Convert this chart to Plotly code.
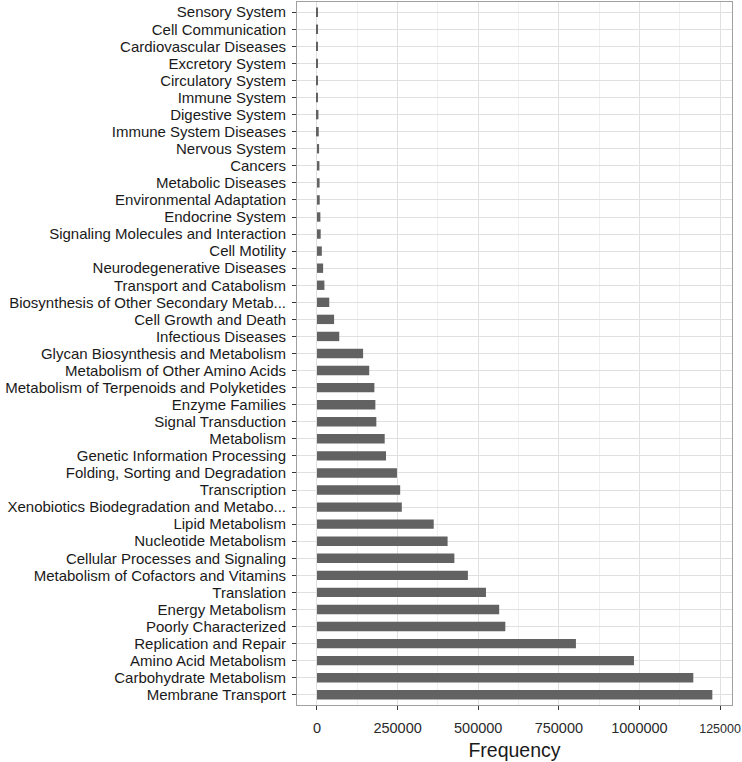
import plotly.graph_objects as go

categories = [
    "Sensory System", "Cell Communication", "Cardiovascular Diseases", "Excretory System",
    "Circulatory System", "Immune System", "Digestive System", "Immune System Diseases",
    "Nervous System", "Cancers", "Metabolic Diseases", "Environmental Adaptation",
    "Endocrine System", "Signaling Molecules and Interaction", "Cell Motility",
    "Neurodegenerative Diseases", "Transport and Catabolism",
    "Biosynthesis of Other Secondary Metab...", "Cell Growth and Death", "Infectious Diseases",
    "Glycan Biosynthesis and Metabolism", "Metabolism of Other Amino Acids",
    "Metabolism of Terpenoids and Polyketides", "Enzyme Families", "Signal Transduction",
    "Metabolism", "Genetic Information Processing", "Folding, Sorting and Degradation",
    "Transcription", "Xenobiotics Biodegradation and Metabo...", "Lipid Metabolism",
    "Nucleotide Metabolism", "Cellular Processes and Signaling",
    "Metabolism of Cofactors and Vitamins", "Translation", "Energy Metabolism",
    "Poorly Characterized", "Replication and Repair", "Amino Acid Metabolism",
    "Carbohydrate Metabolism", "Membrane Transport",
]
frequency = [
    100, 200, 300, 1800,
    2200, 2800, 4500, 5500,
    6500, 7500, 8000, 8500,
    10500, 11500, 15000,
    19000, 23000,
    38000, 53000, 69000,
    143000, 162000,
    178000, 181000, 184000,
    210000, 214000, 248000,
    258000, 263000, 362000,
    405000, 426000,
    468000, 524000, 565000,
    584000, 803000, 983000,
    1167000, 1226000,
]
tick_values = [0, 250000, 500000, 750000, 1000000, 1250000]
tick_labels = ["0", "250000", "500000", "750000", "1000000",
               "<span style='font-size:12.5px'>125000</span>"]
minor_values = [125000, 375000, 625000, 875000, 1125000]

fig = go.Figure(go.Bar(
    x=frequency, y=categories, orientation="h",
    marker=dict(color="#626262", line=dict(width=0)),
    width=0.55,
))

fig.update_layout(
    width=742, height=762,
    margin=dict(l=297, r=10, t=2, b=57, autoexpand=False),
    plot_bgcolor="white", paper_bgcolor="white",
    font=dict(family="Liberation Sans, Arial, sans-serif", size=15, color="#1a1a1a"),
    showlegend=False,
    bargap=0.45,
)
fig.update_xaxes(
    range=[-62000, 1287000],
    tickmode="array", tickvals=tick_values, ticktext=tick_labels,
    showgrid=True, gridcolor="#e0e0e0", gridwidth=1,
    minor=dict(tickvals=minor_values, showgrid=True,
               gridcolor="#f0f0f0", gridwidth=1, ticks=""),
    zeroline=False,
    showline=True, linecolor="#a0a0a0", linewidth=1, mirror=True,
    ticks="outside", ticklen=4, tickcolor="#333333",
    tickfont=dict(size=14.5, color="#2a2a2a"),
    ticklabelstandoff=6,
    ticklabeloverflow="allow",
    title=dict(text="Frequency", font=dict(size=19.5, color="#1a1a1a"), standoff=7),
)
fig.update_yaxes(
    categoryorder="array", categoryarray=categories,
    tickmode="array", tickvals=categories, ticktext=categories,
    range=[len(categories) - 0.4, -0.6],
    showgrid=True, gridcolor="#e0e0e0", gridwidth=1,
    zeroline=False,
    showline=True, linecolor="#a0a0a0", linewidth=1, mirror=True,
    ticks="outside", ticklen=4, tickcolor="#333333",
    tickfont=dict(size=15, color="#1a1a1a"),
    ticklabelstandoff=3,
)

fig.write_html(
    "out.html",
    config={"displayModeBar": False},
    post_script="document.body.style.margin='0';document.body.style.overflow='hidden';",
)
